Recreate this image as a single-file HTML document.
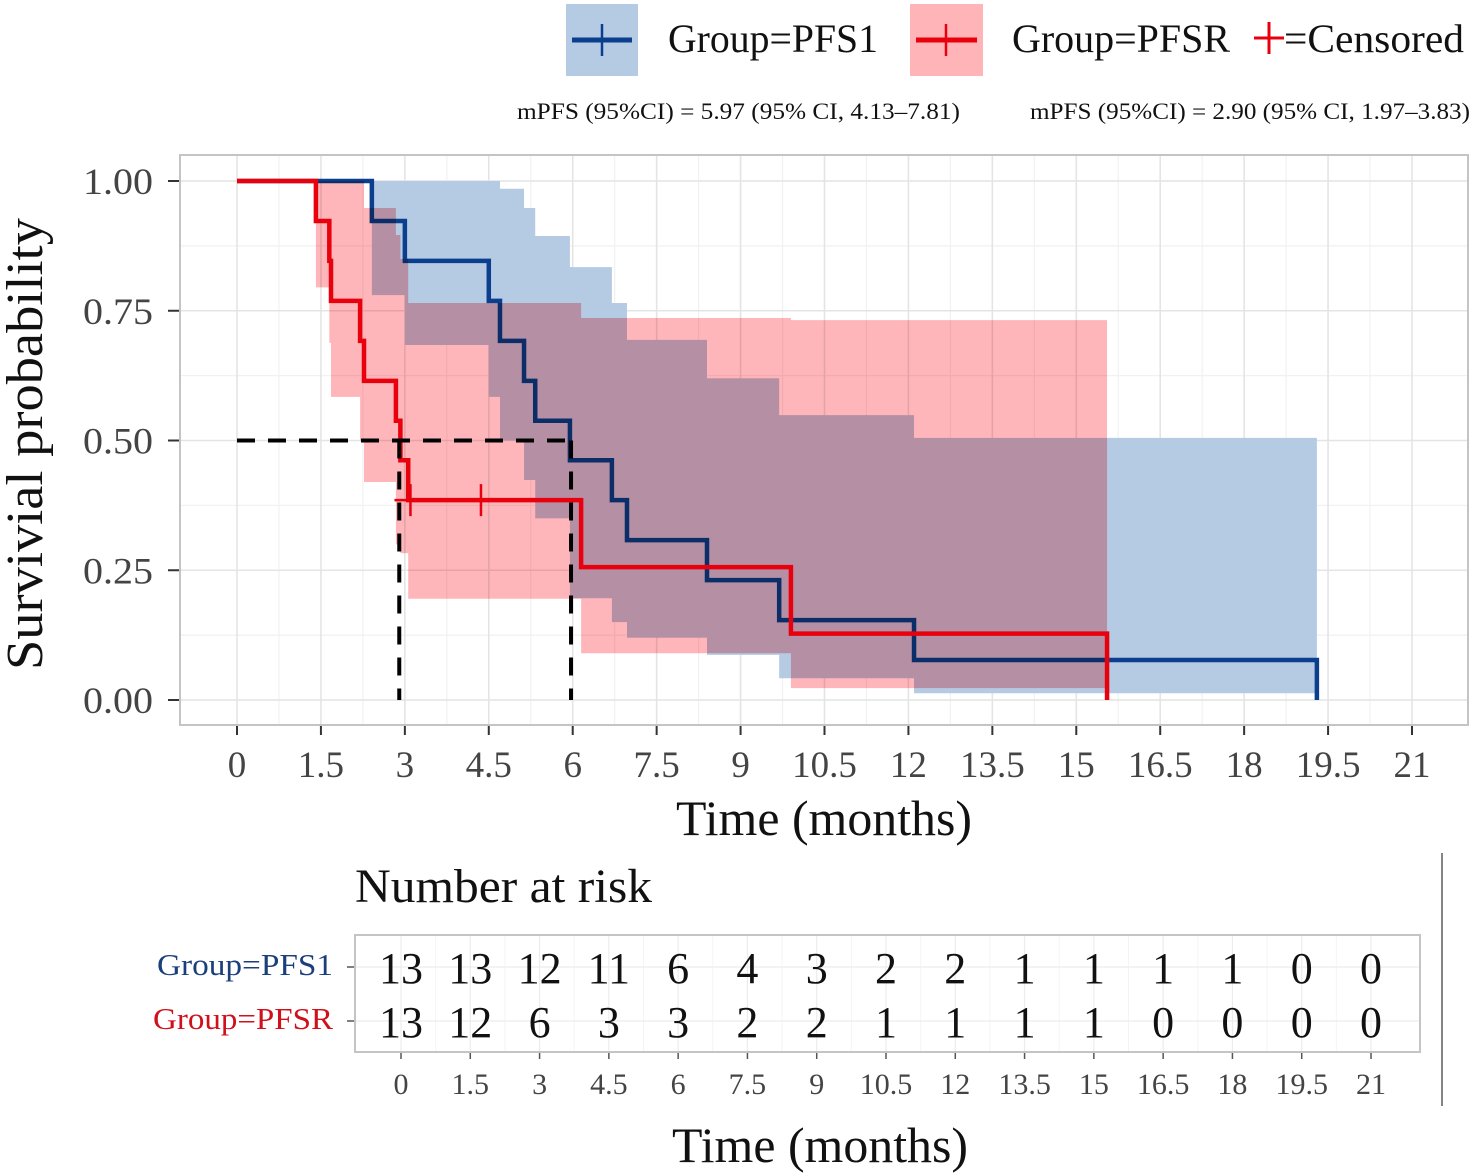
<!DOCTYPE html>
<html><head><meta charset="utf-8"><style>
html,body{margin:0;padding:0;background:#fff;}
svg{display:block;font-family:"Liberation Serif",serif;}
</style></head><body>
<svg id="chart" width="1476" height="1176" viewBox="0 0 1476 1176">
<g id="legend">
  <g>
    <rect x="566" y="4" width="72" height="72" fill="#b5cae3"/>
    <line x1="572" y1="40" x2="632" y2="40" stroke="#0b3f8e" stroke-width="5"/>
    <line x1="602" y1="24" x2="602" y2="56" stroke="#0b3f8e" stroke-width="2.5"/>
    <text x="668" y="52" font-size="40" fill="#111" textLength="210" lengthAdjust="spacingAndGlyphs">Group=PFS1</text>
  </g>
  <g>
    <rect x="910" y="4" width="73" height="72" fill="#ffb4b8"/>
    <line x1="916" y1="40" x2="977" y2="40" stroke="#e8000c" stroke-width="5"/>
    <line x1="946" y1="24" x2="946" y2="56" stroke="#e8000c" stroke-width="2.5"/>
    <text x="1012" y="52" font-size="40" fill="#111" textLength="218" lengthAdjust="spacingAndGlyphs">Group=PFSR</text>
  </g>
  <g>
    <line x1="1254" y1="38" x2="1284" y2="38" stroke="#e8000c" stroke-width="3"/>
    <line x1="1269" y1="22" x2="1269" y2="54" stroke="#e8000c" stroke-width="3"/>
    <text x="1284" y="52" font-size="40" fill="#111" textLength="180" lengthAdjust="spacingAndGlyphs">=Censored</text>
  </g>
</g>
<text x="517" y="119" font-size="23" fill="#111" textLength="443" lengthAdjust="spacingAndGlyphs">mPFS (95%CI) = 5.97 (95% CI, 4.13–7.81)</text>
<text x="1030" y="119" font-size="23" fill="#111" textLength="440" lengthAdjust="spacingAndGlyphs">mPFS (95%CI) = 2.90 (95% CI, 1.97–3.83)</text>

<g id="panel"></g>
<g id="risk"></g>

<text transform="translate(42,444) rotate(-90)" text-anchor="middle" font-size="52" fill="#111" textLength="452" lengthAdjust="spacingAndGlyphs">Survivial probability</text>
<text x="824" y="835" text-anchor="middle" font-size="50" fill="#111" textLength="296" lengthAdjust="spacingAndGlyphs">Time (months)</text>
<text x="355" y="902" font-size="48" fill="#111" textLength="297" lengthAdjust="spacingAndGlyphs">Number at risk</text>
<text x="820" y="1162" text-anchor="middle" font-size="50" fill="#111" textLength="296" lengthAdjust="spacingAndGlyphs">Time (months)</text>
<line x1="1442" y1="853" x2="1442" y2="1106" stroke="#333" stroke-width="1.2"/>
</svg>
<script>
const xTicks = [0,1.5,3,4.5,6,7.5,9,10.5,12,13.5,15,16.5,18,19.5,21];
const xTickLabels = ["0","1.5","3","4.5","6","7.5","9","10.5","12","13.5","15","16.5","18","19.5","21"];
const yTicks = [0,0.25,0.5,0.75,1];
const yTickLabels = ["0.00","0.25","0.50","0.75","1.00"];
const pfs1Times = [0,2.41,3.0,4.5,4.7,5.13,5.33,5.95,6.7,6.97,8.4,9.69,12.1];
const pfs1Surv  = [1,0.923,0.846,0.769,0.692,0.615,0.538,0.462,0.385,0.308,0.231,0.154,0.077];
const pfs1Upper = [1,1,1,1,0.985,0.948,0.894,0.834,0.765,0.694,0.62,0.549,0.505];
const pfs1Lower = [1,0.78,0.684,0.584,0.50,0.424,0.35,0.196,0.15,0.12,0.087,0.042,0.013];
const pfs1End = 19.3;
const pfsrTimes = [0,1.41,1.65,1.68,2.2,2.27,2.84,2.92,3.06,6.15,9.9];
const pfsrSurv  = [1,0.923,0.846,0.769,0.692,0.615,0.538,0.462,0.385,0.256,0.128];
const pfsrUpper = [1,1,1,1,1,0.948,0.896,0.85,0.765,0.736,0.732];
const pfsrLower = [1,0.795,0.688,0.584,0.50,0.42,0.30,0.283,0.195,0.09,0.023];
const pfsrEnd = 15.55;
const pfsrCensorTimes = [3.1,4.36];
const pfsrCensorSurv = [0.385,0.385];
const medianTimes = [2.9,5.97];
const riskPFS1 = [13,13,12,11,6,4,3,2,2,1,1,1,1,0,0];
const riskPFSR = [13,12,6,3,3,2,2,1,1,1,1,0,0,0,0];

const NS='http://www.w3.org/2000/svg';
function mk(tag, attrs, parent){const e=document.createElementNS(NS,tag);for(const k in attrs)e.setAttribute(k,attrs[k]);parent.appendChild(e);return e;}
const X = t => 237 + t*(1412-237)/21;
const Y = s => 700 - s*519;
const panel=document.getElementById('panel');
const P={l:180,r:1468,t:155,b:725};
for(let i=0;i<xTicks.length-1;i++){const xm=X((xTicks[i]+xTicks[i+1])/2);
  const g=mk('line',{x1:xm,x2:xm,y1:P.t,y2:P.b,stroke:'#f1f1f1','stroke-width':1.2},panel);
  }
for(let i=0;i<yTicks.length-1;i++){const ym=Y((yTicks[i]+yTicks[i+1])/2);
  const g=mk('line',{x1:P.l,x2:P.r,y1:ym,y2:ym,stroke:'#f1f1f1','stroke-width':1.2},panel);
  }
xTicks.forEach((t,i)=>{
  const g=mk('line',{x1:X(t),x2:X(t),y1:P.t,y2:P.b,stroke:'#e4e4e4','stroke-width':1.6},panel);
  
  const tk=mk('line',{x1:X(t),x2:X(t),y1:P.b,y2:P.b+10,stroke:'#333','stroke-width':2},panel);
  
  const lb=mk('text',{x:X(t),y:777,'text-anchor':'middle','font-size':37,fill:'#444'},panel);
  lb.textContent=xTickLabels[i];
  
});
yTicks.forEach((s,i)=>{
  const g=mk('line',{x1:P.l,x2:P.r,y1:Y(s),y2:Y(s),stroke:'#e4e4e4','stroke-width':1.6},panel);
  
  const tk=mk('line',{x1:P.l-12,x2:P.l,y1:Y(s),y2:Y(s),stroke:'#333','stroke-width':2},panel);
  
  const lb=mk('text',{x:153,y:Y(s)+13,'text-anchor':'end','font-size':37,fill:'#444',textLength:70,lengthAdjust:'spacingAndGlyphs'},panel);
  lb.textContent=yTickLabels[i];
  
});
const frame=mk('rect',{x:P.l,y:P.t,width:P.r-P.l,height:P.b-P.t,fill:'none',stroke:'#c4c4c4','stroke-width':2},panel);


function bandPath(times,up,lo,end){
  let d='';const n=times.length;
  for(let i=0;i<n;i++){const x0=X(times[i]),x1=X(i<n-1?times[i+1]:end);
    d+=(i===0?'M':'L')+x0+','+Y(up[i])+'L'+x1+','+Y(up[i]);}
  for(let i=n-1;i>=0;i--){const x0=X(times[i]),x1=X(i<n-1?times[i+1]:end);
    d+='L'+x1+','+Y(lo[i])+'L'+x0+','+Y(lo[i]);}
  return d+'Z';
}
function stepPath(times,s,end){
  let d='M'+X(times[0])+','+Y(s[0]);
  for(let i=0;i<times.length;i++){const x1=X(i<times.length-1?times[i+1]:end);
    d+='L'+x1+','+Y(s[i]); if(i<times.length-1) d+='L'+x1+','+Y(s[i+1]);}
  d+='L'+X(end)+','+Y(0);
  return d;
}
const b1=mk('path',{d:bandPath(pfs1Times,pfs1Upper,pfs1Lower,pfs1End),fill:'#b5cae3'},panel);

const l1=mk('path',{d:stepPath(pfs1Times,pfs1Surv,pfs1End),fill:'none',stroke:'#0b3f8e','stroke-width':4.5},panel);

const b2=mk('path',{d:bandPath(pfsrTimes,pfsrUpper,pfsrLower,pfsrEnd),fill:'#ffb6ba',style:'mix-blend-mode:multiply'},panel);

const l2=mk('path',{d:stepPath(pfsrTimes,pfsrSurv,pfsrEnd),fill:'none',stroke:'#e8000c','stroke-width':4.5},panel);

pfsrCensorTimes.forEach((t,i)=>{
  const c=mk('path',{d:'M'+(X(t)-16)+','+Y(pfsrCensorSurv[i])+'h32M'+X(t)+','+(Y(pfsrCensorSurv[i])-16)+'v32',stroke:'#e8000c','stroke-width':2.5,fill:'none'},panel);
  
});
const hm=mk('line',{x1:X(0),x2:X(Math.max(...medianTimes)),y1:Y(0.5),y2:Y(0.5),stroke:'#000','stroke-width':4,'stroke-dasharray':'18 13'},panel);

medianTimes.forEach(t=>{
  const v=mk('line',{x1:X(t),x2:X(t),y1:Y(0.5),y2:Y(0),stroke:'#000','stroke-width':4,'stroke-dasharray':'18 13'},panel);
  
});

const risk=document.getElementById('risk');
const RX = t => 401 + t*(1371-401)/21;
const R={l:355,r:1420,t:935,b:1052};
xTicks.forEach((t,i)=>{
  const g=mk('line',{x1:RX(t),x2:RX(t),y1:R.t,y2:R.b,stroke:'#ececec','stroke-width':1.2},risk);
  
  if(i<xTicks.length-1){const xm=RX((t+xTicks[i+1])/2);
    const g2=mk('line',{x1:xm,x2:xm,y1:R.t,y2:R.b,stroke:'#f4f4f4','stroke-width':1},risk);
    }
  const tk=mk('line',{x1:RX(t),x2:RX(t),y1:R.b,y2:R.b+7,stroke:'#555','stroke-width':1.5},risk);
  
  const lb=mk('text',{x:RX(t),y:1094,'text-anchor':'middle','font-size':30,fill:'#444'},risk);
  lb.textContent=xTickLabels[i];
  
});
[967,1021].forEach(y=>{
  const g=mk('line',{x1:R.l,x2:R.r,y1:y,y2:y,stroke:'#ececec','stroke-width':1.2},risk);
  
  const tk=mk('line',{x1:R.l-8,x2:R.l,y1:y,y2:y,stroke:'#555','stroke-width':1.5},risk);
  
});
const rf=mk('rect',{x:R.l,y:R.t,width:R.r-R.l,height:R.b-R.t,fill:'none',stroke:'#c4c4c4','stroke-width':2},risk);

const rl1=mk('text',{x:333,y:975,'text-anchor':'end','font-size':31,fill:'#1a3f7a',textLength:176,lengthAdjust:'spacingAndGlyphs'},risk);
rl1.textContent='Group=PFS1';
const rl2=mk('text',{x:333,y:1029,'text-anchor':'end','font-size':31,fill:'#d0101a',textLength:180,lengthAdjust:'spacingAndGlyphs'},risk);
rl2.textContent='Group=PFSR';
xTicks.forEach((t,i)=>{
  const a=mk('text',{x:RX(t),y:983,'text-anchor':'middle','font-size':44,fill:'#111'},risk);
  a.textContent=riskPFS1[i];
  const b=mk('text',{x:RX(t),y:1037,'text-anchor':'middle','font-size':44,fill:'#111'},risk);
  b.textContent=riskPFSR[i];
});
</script>
</body></html>
